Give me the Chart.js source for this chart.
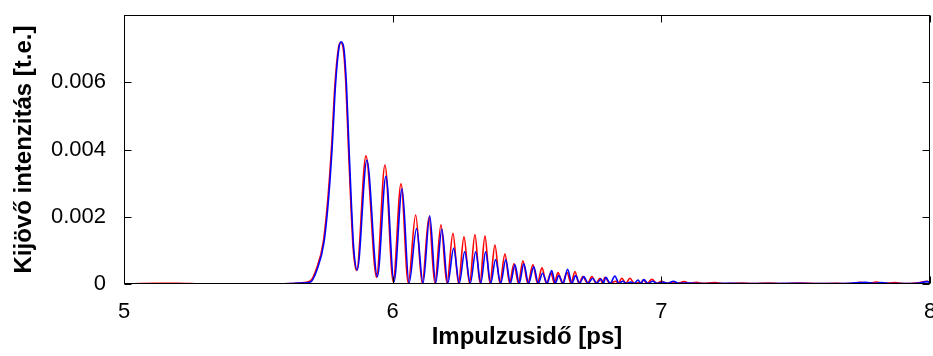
<!DOCTYPE html>
<html>
<head>
<meta charset="utf-8">
<script src="https://cdn.jsdelivr.net/npm/chart.js@4/dist/chart.umd.min.js"></script>
<style>
html,body{margin:0;padding:0;background:#fff;}
#c{display:block;}
</style>
</head>
<body>
<canvas id="c" width="933" height="356" style="width:933px;height:356px"></canvas>
<script>
// ---- data ----
const redX = [5.000,5.115,5.200,5.300,5.500,5.620,5.655,5.692,5.717,5.742,5.760,5.773,5.785,5.798,5.806,5.816,5.826,5.835,5.844,5.853,5.866,
  5.9006,5.940,5.9713,6.002,6.031,6.058,6.0856,6.110,6.1351,6.157,6.1798,6.202,6.2244,6.245,6.2654,6.286,6.3063,6.325,6.3435,6.362,
  6.3807,6.399,6.418,6.435,6.4515,6.468,6.4849,6.503,6.5221,6.539,6.5557,6.572,6.5892,6.602,6.6152,6.632,6.6487,6.664,6.6785,6.693,
  6.7082,6.725,6.7417,6.757,6.7715,6.781,6.790,6.808,6.830,6.840,6.853,6.868,6.883,6.900,6.918,6.924,6.932,6.948,6.965,6.982,
  7.000,7.020,7.040,7.060,7.085,7.105,7.130,7.150,7.200,7.230,7.300,7.340,7.400,7.450,7.520,7.580,7.650,7.700,7.740,7.770,7.800,
  7.830,7.870,7.900,7.950,7.990,8.000];
const redY = [0,0.00002,0.00002,0,0,0.00001,0.00003,0.00008,0.00047,0.00126,0.00265,0.00413,0.00591,0.00700,0.00718,0.00700,0.00591,0.00413,0.00245,0.00106,0.00040,
  0.00381,0.00020,0.00354,0.00007,0.00298,0.00003,0.00205,0.00002,0.00198,0.00002,0.00176,0.00002,0.00151,0.00002,0.00140,0.00002,0.00147,0.00002,0.00143,0.00002,
  0.00116,0.00002,0.00090,0.00002,0.00061,0.00002,0.00069,0.00002,0.00057,0.00002,0.00048,0.00002,0.00033,0.00002,0.00034,0.00002,0.00035,0.00002,0.00037,0.00002,
  0.00022,0.00002,0.00022,0.00002,0.00017,0.00003,0.00020,0.00002,0.00008,0.00002,0.00017,0.00002,0.00017,0.00002,0.00004,0.00002,0.00012,0.00002,0.00014,0.00002,
  0.00008,0.00002,0.00006,0.00002,0.00007,0.00002,0.00005,0.00002,0.00004,0.00001,0.00003,0.00001,0.00003,0.00001,0.00003,0.00001,0.00002,0.00001,0.00005,0.00002,0.00006,
  0.00002,0.00004,0.00001,0.00003,0.00008,0.00005];

const blueX = [5.000,5.500,5.620,5.657,5.694,5.719,5.744,5.762,5.775,5.787,5.800,5.808,5.818,5.828,5.837,5.846,5.855,5.868,
  5.904,5.943,5.975,6.005,6.035,6.061,6.089,6.113,6.138,6.160,6.183,6.205,6.227,6.248,6.268,6.289,6.309,6.328,6.346,6.365,
  6.383,6.402,6.421,6.438,6.455,6.471,6.488,6.506,6.525,6.542,6.558,6.575,6.592,6.605,6.618,6.635,6.651,6.667,6.681,6.696,
  6.711,6.728,6.744,6.760,6.775,6.785,6.793,6.810,6.827,6.842,6.856,6.870,6.886,6.900,6.913,6.924,6.935,6.950,6.968,6.985,
  7.005,7.025,7.045,7.065,7.100,7.150,7.250,7.350,7.500,7.600,7.700,7.760,7.790,7.820,7.850,7.950,7.990,8.000];
const blueY = [0,0,0.00001,0.00003,0.00006,0.00044,0.00122,0.00260,0.00410,0.00590,0.00702,0.00720,0.00702,0.00591,0.00413,0.00245,0.00106,0.00042,
  0.00368,0.00022,0.00320,0.00007,0.00283,0.00003,0.00165,0.00002,0.00203,0.00002,0.00163,0.00002,0.00106,0.00002,0.00096,0.00002,0.00096,0.00002,0.00096,0.00002,
  0.00073,0.00002,0.00072,0.00002,0.00057,0.00002,0.00060,0.00002,0.00051,0.00002,0.00032,0.00002,0.00040,0.00002,0.00025,0.00002,0.00044,0.00002,0.00025,0.00002,
  0.00022,0.00002,0.00017,0.00002,0.00015,0.00003,0.00020,0.00002,0.00024,0.00002,0.00008,0.00002,0.00006,0.00002,0.00012,0.00002,0.00013,0.00002,0.00008,0.00002,
  0.00006,0.00002,0.00008,0.00002,0.00003,0.00001,0.00002,0.00001,0.00002,0.00001,0.00002,0.00005,0.00002,0.00004,0.00001,0.00002,0.00007,0.00004];

const xTickValues = [5, 6, 7, 8];
const xTickLabels = ['5', '6', '7', '8'];
const yTickValues = [0, 0.002, 0.004, 0.006];
const yTickLabels = ['0', '0.002', '0.004', '0.006'];
const xTitle = 'Impulzusidő [ps]';
const yTitle = 'Kijövő intenzitás [t.e.]';

// ---- chart ----
const toPts = (xs, ys) => xs.map((x, i) => ({x: x, y: ys[i]}));

const frame = {
  id: 'frame',
  afterDatasetsDraw(chart) {
    const {ctx, chartArea: a, scales: {x, y}} = chart;
    ctx.save();
    ctx.strokeStyle = '#000';
    ctx.lineWidth = 1;
    const L = Math.round(a.left) + 0.5, R = Math.round(a.right) - 0.5;
    const T = Math.round(a.top) + 0.5, B = Math.round(a.bottom) - 0.5;
    ctx.strokeRect(L, T, R - L, B - T);
    const tl = 7;
    ctx.beginPath();
    x.ticks.forEach(t => {
      const px = Math.round(x.getPixelForValue(t.value)) + 0.5;
      ctx.moveTo(px, B); ctx.lineTo(px, B - tl);
      ctx.moveTo(px, T); ctx.lineTo(px, T + tl);
    });
    y.ticks.forEach(t => {
      const py = Math.round(y.getPixelForValue(t.value)) + 0.5;
      ctx.moveTo(L, py); ctx.lineTo(L + tl, py);
      ctx.moveTo(R, py); ctx.lineTo(R - tl, py);
    });
    ctx.stroke();
    ctx.restore();
  }
};

const tickFont = {family: "'Liberation Sans', Arial, sans-serif", size: 22};
const titleFont = {family: "'Liberation Sans', Arial, sans-serif", size: 24, weight: 'bold'};

new Chart(document.getElementById('c'), {
  type: 'scatter',
  data: {
    datasets: [
      {label: 'blue', data: toPts(blueX, blueY), showLine: true, borderColor: '#0000ff', borderWidth: 1.6,
       pointRadius: 0, cubicInterpolationMode: 'monotone', fill: false},
      {label: 'red', data: toPts(redX, redY), showLine: true, borderColor: '#ff0000', borderWidth: 1.6,
       pointRadius: 0, cubicInterpolationMode: 'monotone', fill: false}
    ]
  },
  options: {
    responsive: false,
    animation: false,
    devicePixelRatio: 1,
    layout: {padding: {top: 15, right: 3, left: 0, bottom: 0}},
    plugins: {legend: {display: false}, tooltip: {enabled: false}},
    scales: {
      x: {
        type: 'linear', min: 5, max: 8,
        afterBuildTicks: s => { s.ticks = xTickValues.map(v => ({value: v})); },
        ticks: {font: tickFont, color: '#000', padding: 15, maxRotation: 0,
                callback: (v) => { const i = xTickValues.indexOf(v); return i >= 0 ? xTickLabels[i] : ''; }},
        grid: {display: false, drawTicks: false},
        border: {display: false},
        title: {display: true, text: xTitle, font: titleFont, color: '#000', padding: {top: 0, bottom: 4}},
        afterFit: s => { s.height = 72; s.paddingLeft = 0; s.paddingRight = 0; }
      },
      y: {
        type: 'linear', min: 0, max: 0.008,
        afterBuildTicks: s => { s.ticks = yTickValues.map(v => ({value: v})); },
        ticks: {font: tickFont, color: '#000', padding: 18,
                callback: (v) => { const i = yTickValues.indexOf(v); return i >= 0 ? yTickLabels[i] : ''; }},
        grid: {display: false, drawTicks: false},
        border: {display: false},
        title: {display: true, text: yTitle, font: titleFont, color: '#000', padding: {top: 10, bottom: 0}},
        afterFit: s => { s.width = 124; s.paddingTop = 0; s.paddingBottom = 0; }
      }
    }
  },
  plugins: [frame]
});
</script>
</body>
</html>
